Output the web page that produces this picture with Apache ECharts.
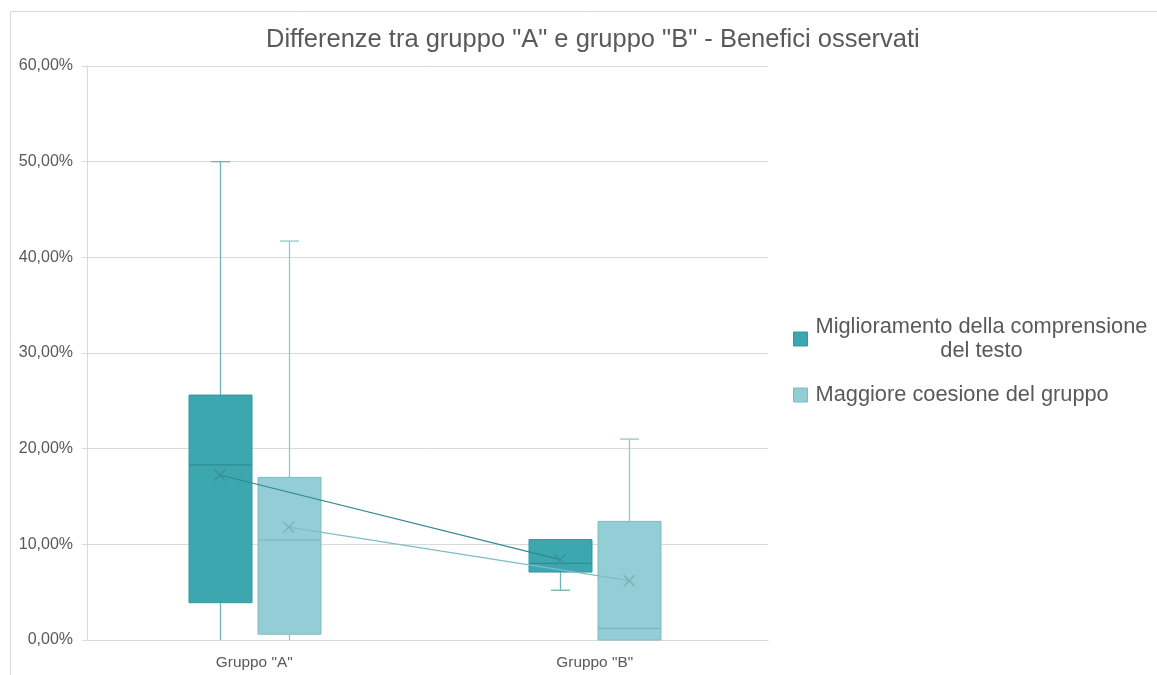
<!DOCTYPE html>
<html>
<head>
<meta charset="utf-8">
<script src="https://cdn.jsdelivr.net/npm/echarts@6/dist/echarts.min.js"></script>
<style>
html,body{margin:0;padding:0;background:#fff;}
#chart{width:1157px;height:675px;}
</style>
</head>
<body>
<div id="chart"></div>
<script>
// ---- data ----
const categories = ['Gruppo "A"', 'Gruppo "B"'];
const seriesNames = ['Miglioramento della comprensione del testo', 'Maggiore coesione del gruppo'];
// [min, Q1, mediana, Q3, max] in %
const comprensioneBox = [[0, 3.9, 18.3, 25.6, 50.0], [5.2, 7.1, 8.0, 10.5, 10.5]];
const coesioneBox = [[0, 0.6, 10.45, 17.0, 41.7], [0, 0, 1.2, 12.4, 21.0]];
// media (x)
const comprensioneMean = [17.25, 8.4];
const coesioneMean = [11.8, 6.2];
const yMin = 0, yMax = 60, yStep = 10;

// ---- styles ----
const DARK = {fill: '#3ca7af', border: '#3497a0', median: '#2f8c93', whisker: '#6fb2b7', line: '#2e8a91', mark: '#3f8f95'};
const LIGHT = {fill: '#93ced6', border: '#80bcc3', median: '#7cb7be', whisker: '#93c7cc', line: '#7fbcc3', mark: '#7aaeb3'};
const TXT = '#595959', GRID = '#d9d9d9', FONT = '"Liberation Sans", Arial, sans-serif';

function boxRenderer(st) {
  return function (params, api) {
    const i = api.value(0);
    const mn = api.value(1), q1 = api.value(2), md = api.value(3), q3 = api.value(4), mx = api.value(5);
    const band = api.size([1, 0])[0];
    const bw = band * 0.185, cw = band * 0.056;
    const c = v => api.coord([i, v]);
    const x = Math.round(c(md)[0]) + 0.5;
    const yMn = c(mn)[1], yQ1 = c(q1)[1], yMd = c(md)[1], yQ3 = c(q3)[1], yMx = c(mx)[1];
    const wl = {stroke: st.whisker, lineWidth: 1.3};
    const ch = [];
    if (mx > q3) {
      ch.push({type: 'line', shape: {x1: x, y1: yQ3, x2: x, y2: yMx}, style: wl});
      ch.push({type: 'line', shape: {x1: x - cw / 2, y1: yMx, x2: x + cw / 2, y2: yMx}, style: wl});
    }
    if (mn < q1) {
      ch.push({type: 'line', shape: {x1: x, y1: yQ1, x2: x, y2: yMn}, style: wl});
      if (mn > yMin) ch.push({type: 'line', shape: {x1: x - cw / 2, y1: yMn, x2: x + cw / 2, y2: yMn}, style: wl});
    }
    ch.push({type: 'rect', shape: {x: x - bw / 2, y: yQ3, width: bw, height: yQ1 - yQ3},
      style: {fill: st.fill, stroke: st.border, lineWidth: 1}});
    ch.push({type: 'line', shape: {x1: x - bw / 2, y1: yMd, x2: x + bw / 2, y2: yMd},
      style: {stroke: st.median, lineWidth: 1.3}});
    return {type: 'group', children: ch};
  };
}

const PLOT = {left: 87, right: 389, top: 66, bottom: 35};
const NUDGE = -3;
const SHIFT = 34.5;
const X_MARK = 'path://M0,0L10,10M10,0L0,10';

const hiddenX = i => ({type: 'category', gridIndex: i, data: categories, show: false});
const hiddenY = i => ({type: 'value', gridIndex: i, min: yMin, max: yMax, interval: yStep, show: false});

const chart = echarts.init(document.getElementById('chart'), null, {renderer: 'canvas'});
chart.setOption({
  animation: false,
  textStyle: {fontFamily: FONT},
  graphic: [{
    type: 'rect', silent: true, z: -10,
    shape: {x: 10.5, y: 11.5, width: 1300, height: 800},
    style: {fill: 'none', stroke: GRID, lineWidth: 1}
  }],
  title: {
    text: 'Differenze tra gruppo "A" e gruppo "B" - Benefici osservati',
    left: 261, top: 22,
    textStyle: {fontFamily: FONT, fontSize: 25.5, fontWeight: 'normal', color: TXT}
  },
  legend: {
    orient: 'vertical', left: 788, top: 311, itemGap: 22,
    icon: 'rect', itemWidth: 14, itemHeight: 14,
    data: [
      {name: seriesNames[0], itemStyle: {color: DARK.fill, borderColor: DARK.border, borderWidth: 1}},
      {name: seriesNames[1], itemStyle: {color: LIGHT.fill, borderColor: LIGHT.border, borderWidth: 1}}
    ],
    formatter: function (name) {
      if (name === seriesNames[0]) return '{c|Miglioramento della comprensione}\n{c|del testo}';
      return '{c|' + name + '}';
    },
    textStyle: {
      color: TXT, fontSize: 21.8, fontFamily: FONT,
      rich: {c: {fontSize: 21.8, lineHeight: 24, color: TXT, align: 'center', fontFamily: FONT, padding: [0, 0, 0, 3]}}
    }
  },
  grid: [
    {left: PLOT.left, right: PLOT.right, top: PLOT.top, bottom: PLOT.bottom},
    {left: PLOT.left + NUDGE - SHIFT, right: PLOT.right - NUDGE + SHIFT, top: PLOT.top, bottom: PLOT.bottom},
    {left: PLOT.left + NUDGE + SHIFT, right: PLOT.right - NUDGE - SHIFT, top: PLOT.top, bottom: PLOT.bottom}
  ],
  xAxis: [
    {
      type: 'category', gridIndex: 0, data: categories,
      axisLine: {lineStyle: {color: GRID, width: 1}},
      axisTick: {show: false},
      axisLabel: {color: TXT, fontSize: 15.4, margin: 15, fontFamily: FONT, padding: [0, 6, 0, 0]}
    },
    hiddenX(1), hiddenX(2)
  ],
  yAxis: [
    {
      type: 'value', gridIndex: 0, min: yMin, max: yMax, interval: yStep,
      axisLine: {show: true, lineStyle: {color: GRID, width: 1}},
      axisTick: {show: true, length: 5, lineStyle: {color: GRID}},
      splitLine: {lineStyle: {color: GRID, width: 1}},
      axisLabel: {
        color: TXT, fontSize: 16, margin: 14, fontFamily: FONT,
        formatter: v => v.toFixed(2).replace('.', ',') + '%'
      }
    },
    hiddenY(1), hiddenY(2)
  ],
  series: [
    {
      name: seriesNames[0], type: 'custom', xAxisIndex: 1, yAxisIndex: 1,
      itemStyle: {color: DARK.fill},
      encode: {x: 0, y: [1, 2, 3, 4, 5]},
      data: comprensioneBox.map((b, i) => [i].concat(b)),
      renderItem: boxRenderer(DARK)
    },
    {
      name: 'Media comprensione', type: 'line', xAxisIndex: 1, yAxisIndex: 1,
      data: comprensioneMean,
      lineStyle: {color: DARK.line, width: 1.2},
      symbol: X_MARK, symbolSize: 11, showSymbol: true,
      itemStyle: {color: 'rgba(0,0,0,0)', borderColor: DARK.mark, borderWidth: 1.3}
    },
    {
      name: seriesNames[1], type: 'custom', xAxisIndex: 2, yAxisIndex: 2,
      itemStyle: {color: LIGHT.fill},
      encode: {x: 0, y: [1, 2, 3, 4, 5]},
      data: coesioneBox.map((b, i) => [i].concat(b)),
      renderItem: boxRenderer(LIGHT)
    },
    {
      name: 'Media coesione', type: 'line', xAxisIndex: 2, yAxisIndex: 2,
      data: coesioneMean,
      lineStyle: {color: LIGHT.line, width: 1.2},
      symbol: X_MARK, symbolSize: 11, showSymbol: true,
      itemStyle: {color: 'rgba(0,0,0,0)', borderColor: LIGHT.mark, borderWidth: 1.3}
    }
  ]
});
</script>
</body>
</html>
